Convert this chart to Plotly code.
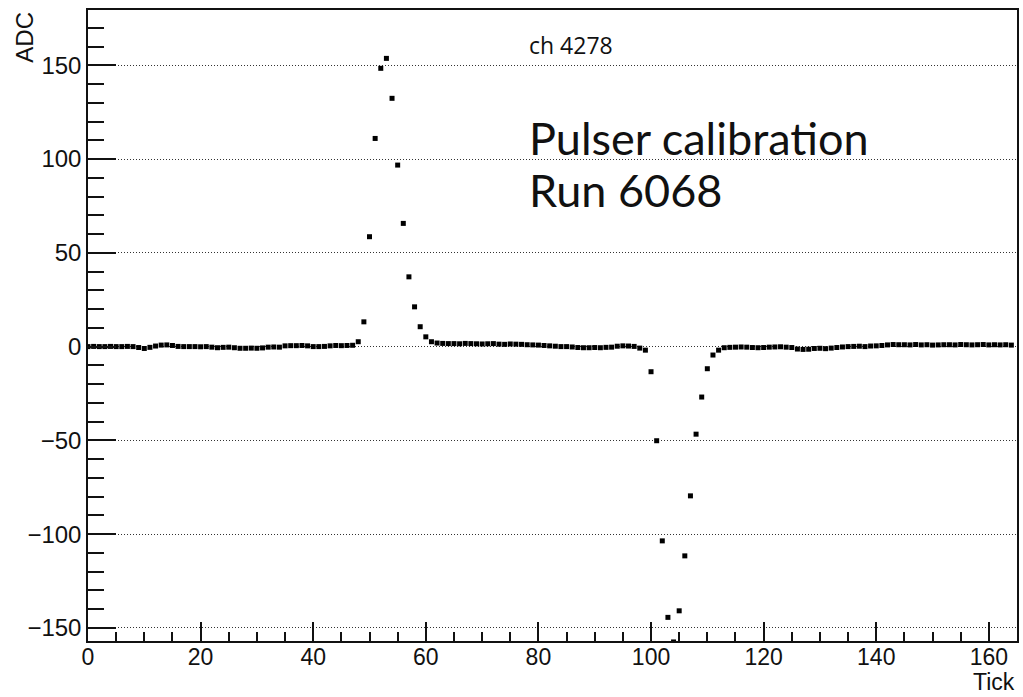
import plotly.graph_objects as go

tick = list(range(165))
adc = [
    0.0, 0.1, 0.0, 0.0, 0.1, 0.0, 0.0, 0.1, 0.0,
    -0.5, -1.0, -0.4, 0.3, 0.8, 0.9, 0.6, 0.1,
    0.0, 0.0, 0.0, -0.1, 0.0, -0.3, -0.6, -0.4,
    -0.3, -0.6, -0.9, -0.9, -0.8, -0.9, -0.7, -0.3, -0.2, -0.3,
    0.4, 0.5, 0.5, 0.6, 0.4, 0.0, 0.0, 0.1,
    0.4, 0.6, 0.5, 0.6, 0.7,
    2.6, 13.2, 58.6, 111.0, 148.4, 153.7, 132.4, 96.8, 65.7, 37.2, 21.2, 10.6, 5.2, 2.6, 1.9,
    1.7, 1.6, 1.6, 1.5, 1.7, 1.6, 1.5, 1.4, 1.5, 1.6, 1.3, 1.2, 1.4, 1.3, 1.2, 1.0, 0.9, 0.8,
    0.6, 0.4, 0.2, 0.0, 0.0, -0.2, -0.5, -0.6, -0.6, -0.5, -0.6, -0.4, -0.3, 0.2, 0.4, 0.3, 0.1, -0.8,
    -1.9, -13.4, -50.2, -103.6, -144.4, -157.5, -140.9, -111.6, -79.6, -46.7, -26.9, -11.8, -4.5, -1.9,
    -0.6, -0.4, -0.3, -0.2, -0.3, -0.5,
    -0.6, -0.5, -0.3, -0.2, -0.1, -0.3, -0.5,
    -1.3, -1.5, -1.4,
    -1.0, -0.9, -1.1, -0.8, -0.5,
    -0.2, 0.0, 0.1, 0.2, 0.0, 0.3, 0.4, 0.6,
    0.9, 1.1, 1.0, 1.0, 0.9, 1.1, 0.9, 1.0, 0.8, 0.9, 1.0, 1.0, 0.9, 1.1, 1.0, 0.9, 1.0, 1.1, 0.9, 1.0, 0.9, 1.0, 0.8,
]

x_major = [0, 20, 40, 60, 80, 100, 120, 140, 160]
y_major = [-150, -100, -50, 0, 50, 100, 150]

W, H = 1023, 697
L, R, T, B = 88, 4, 10, 56

fig = go.Figure()
fig.add_trace(go.Scatter(
    x=tick, y=adc, mode="markers",
    marker=dict(symbol="square", size=5, color="black", line=dict(width=0)),
    showlegend=False,
))

axis_font = dict(family="Liberation Sans, Arial, sans-serif", size=24, color="#111")
xtick_font = dict(family="Liberation Sans, Arial, sans-serif", size=23, color="#111")

fig.update_layout(
    width=W, height=H,
    margin=dict(l=L, r=R, t=T, b=B),
    paper_bgcolor="white", plot_bgcolor="white",
    xaxis=dict(
        range=[0, 165], tickvals=x_major, ticktext=[str(v) for v in x_major],
        ticks="inside", ticklen=19, tickwidth=1.5, tickcolor="#111",
        minor=dict(ticks="inside", ticklen=9, dtick=5, tick0=0, tickwidth=1.5, tickcolor="#111", showgrid=False),
        showgrid=False, zeroline=False,
        showline=True, linecolor="#111", linewidth=1.5, mirror=True,
        tickfont=xtick_font, ticklabelstandoff=-5,
    ),
    yaxis=dict(
        range=[-157.0, 179.5], tickvals=y_major,
        ticktext=[("\u2212" + str(-v)) if v < 0 else str(v) for v in y_major],
        ticks="inside", ticklen=28, tickwidth=1.5, tickcolor="#111",
        minor=dict(ticks="inside", ticklen=16, dtick=10, tick0=0, tickwidth=1.5, tickcolor="#111", showgrid=False),
        showgrid=True, gridcolor="#333", gridwidth=1, griddash="1px,2px",
        zeroline=False,
        showline=True, linecolor="#111", linewidth=1.5, mirror=True,
        tickfont=axis_font, ticklabelstandoff=0,
    ),
)

pw = W - L - R
ph = H - T - B
def px(xp):
    return (xp - L) / pw
def py(yp):
    return (H - B - yp) / ph

fig.add_annotation(text="ADC", xref="paper", yref="paper", x=px(24), y=py(10),
                   xanchor="center", yanchor="top", textangle=-90, showarrow=False,
                   font=axis_font)
fig.add_annotation(text="Tick", xref="paper", yref="paper", x=px(1018), y=py(682),
                   xanchor="right", yanchor="middle", showarrow=False, borderpad=0,
                   font=dict(family="Liberation Sans, Arial, sans-serif", size=23, color="#111"))
fig.add_annotation(text="ch 4278", xref="paper", yref="paper", x=px(528), y=py(45),
                   xanchor="left", yanchor="middle", showarrow=False,
                   font=dict(family="Open Sans, sans-serif", size=23, color="#111"))
fig.add_annotation(text="Pulser calibration", xref="paper", yref="paper", x=px(528), y=py(138),
                   xanchor="left", yanchor="middle", showarrow=False,
                   font=dict(family="Lato, sans-serif", size=45, color="#111"))
fig.add_annotation(text="Run 6068", xref="paper", yref="paper", x=px(528), y=py(190),
                   xanchor="left", yanchor="middle", showarrow=False,
                   font=dict(family="Lato, sans-serif", size=45, color="#111"))

fig.write_html("out.html")
